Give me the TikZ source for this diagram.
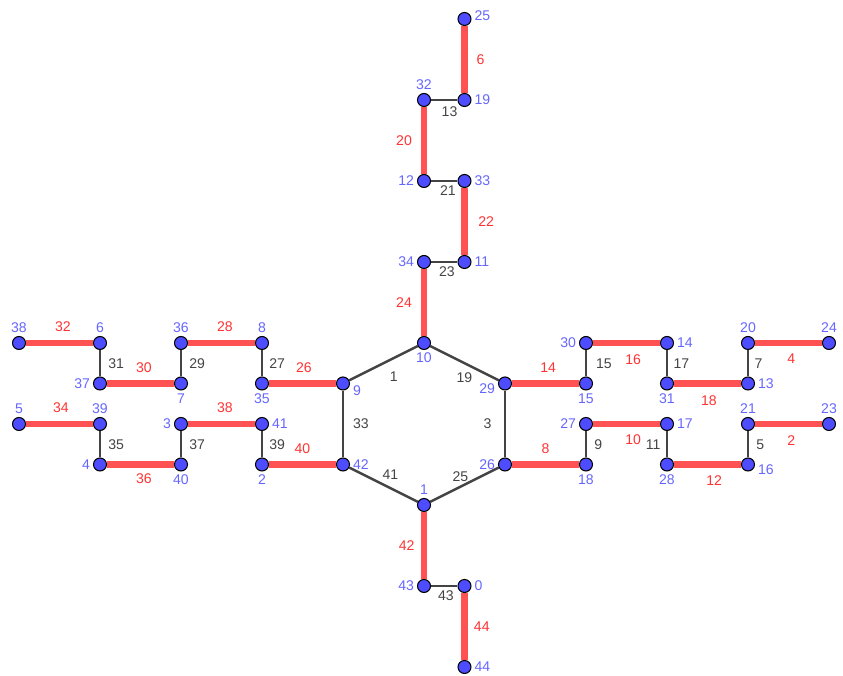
\documentclass[tikz,border=0pt]{standalone}
\usepackage{fontspec}
\setmainfont{Liberation Sans}
\usetikzlibrary{backgrounds}
\definecolor{PtBlue}{HTML}{4D4DFF}
\definecolor{PtText}{HTML}{6666FF}
\definecolor{RedEdge}{HTML}{FF5252}
\definecolor{RedText}{HTML}{FF3333}
\definecolor{GreyEdge}{HTML}{444444}
\tikzset{
  vertex/.style={circle,draw=black,line width=.6pt,fill=PtBlue,minimum size=.26cm,
    inner sep=0pt,label distance=0pt},
  vlabel/.style={text=PtText,font=\fontsize{8}{9}\selectfont,inner sep=1.5pt},
  red edge/.style={draw=RedEdge,line width=3.8pt},
  grey edge/.style={draw=GreyEdge,line width=1.4pt},
  red label/.style={text=RedText,font=\fontsize{8}{9}\selectfont,inner sep=2pt},
  grey label/.style={text=GreyEdge,font=\fontsize{8}{9}\selectfont,inner sep=2pt}
}

\begin{document}
\begin{tikzpicture}[x=.81cm,y=.81cm]
  \useasboundingbox (-0.469,-0.198) rectangle (20.346,16.469);
  % top chain
  \node[vertex,label={[vlabel,yshift=2pt]right:25}] (n25) at (11,16) {};
  \node[vertex,label={[vlabel]right:19}] (n19) at (11,14) {};
  \node[vertex,label={[vlabel]above:32}] (n32) at (10,14) {};
  \node[vertex,label={[vlabel]left:12}] (n12) at (10,12) {};
  \node[vertex,label={[vlabel]right:33}] (n33) at (11,12) {};
  \node[vertex,label={[vlabel]right:11}] (n11) at (11,10) {};
  \node[vertex,label={[vlabel]left:34}] (n34) at (10,10) {};
  % hexagon
  \node[vertex,label={[vlabel]below:10}] (n10) at (10,8) {};
  \node[vertex,label={[vlabel,yshift=-3pt]left:29}] (n29) at (12,7) {};
  \node[vertex,label={[vlabel]left:26}] (n26) at (12,5) {};
  \node[vertex,label={[vlabel]above:1}] (n1) at (10,4) {};
  \node[vertex,label={[vlabel]right:42}] (n42) at (8,5) {};
  \node[vertex,label={[vlabel,yshift=-4pt]right:9}] (n9) at (8,7) {};
  % bottom chain
  \node[vertex,label={[vlabel]left:43}] (n43) at (10,2) {};
  \node[vertex,label={[vlabel]right:0}] (n0) at (11,2) {};
  \node[vertex,label={[vlabel]right:44}] (n44) at (11,0) {};
  % left arm
  \node[vertex,label={[vlabel]above:38}] (n38) at (0,8) {};
  \node[vertex,label={[vlabel]above:6}] (n6) at (2,8) {};
  \node[vertex,label={[vlabel]left:37}] (n37) at (2,7) {};
  \node[vertex,label={[vlabel]below:7}] (n7) at (4,7) {};
  \node[vertex,label={[vlabel]above:36}] (n36) at (4,8) {};
  \node[vertex,label={[vlabel]above:8}] (n8) at (6,8) {};
  \node[vertex,label={[vlabel]below:35}] (n35) at (6,7) {};
  \node[vertex,label={[vlabel]above:5}] (n5) at (0,6) {};
  \node[vertex,label={[vlabel]above:39}] (n39) at (2,6) {};
  \node[vertex,label={[vlabel]left:4}] (n4) at (2,5) {};
  \node[vertex,label={[vlabel]below:40}] (n40) at (4,5) {};
  \node[vertex,label={[vlabel]left:3}] (n3) at (4,6) {};
  \node[vertex,label={[vlabel]right:41}] (n41) at (6,6) {};
  \node[vertex,label={[vlabel]below:2}] (n2) at (6,5) {};
  % right arm
  \node[vertex,label={[vlabel]left:30}] (n30) at (14,8) {};
  \node[vertex,label={[vlabel]below:15}] (n15) at (14,7) {};
  \node[vertex,label={[vlabel]right:14}] (n14) at (16,8) {};
  \node[vertex,label={[vlabel]below:31}] (n31) at (16,7) {};
  \node[vertex,label={[vlabel]above:20}] (n20) at (18,8) {};
  \node[vertex,label={[vlabel]right:13}] (n13) at (18,7) {};
  \node[vertex,label={[vlabel]above:24}] (n24) at (20,8) {};
  \node[vertex,label={[vlabel]left:27}] (n27) at (14,6) {};
  \node[vertex,label={[vlabel]below:18}] (n18) at (14,5) {};
  \node[vertex,label={[vlabel]right:17}] (n17) at (16,6) {};
  \node[vertex,label={[vlabel]below:28}] (n28) at (16,5) {};
  \node[vertex,label={[vlabel]above:21}] (n21) at (18,6) {};
  \node[vertex,label={[vlabel,yshift=-3pt]right:16}] (n16) at (18,5) {};
  \node[vertex,label={[vlabel]above:23}] (n23) at (20,6) {};

  \begin{scope}[on background layer]
    % vertical chain
    \draw[red edge] (n25) -- node[red label,right=3pt]{6} (n19);
    \draw[grey edge] (n32) -- node[grey label,pos=.7,below=1pt]{13} (n19);
    \draw[red edge] (n32) -- node[red label,left=3pt]{20} (n12);
    \draw[grey edge] (n12) -- node[grey label,pos=.64,below=0pt]{21} (n33);
    \draw[red edge] (n33) -- node[red label,right=4pt]{22} (n11);
    \draw[grey edge] (n34) -- node[grey label,pos=.6,below=0pt]{23} (n11);
    \draw[red edge] (n34) -- node[red label,left=3pt]{24} (n10);
    \draw[red edge] (n1) -- node[red label,left=1.5pt]{42} (n43);
    \draw[grey edge] (n43) -- node[grey label,pos=.56,below=0pt]{43} (n0);
    \draw[red edge] (n0) -- node[red label,right=1.5pt]{44} (n44);
    % hexagon
    \draw[grey edge] (n10) -- node[grey label,pos=.35,below=5pt]{1} (n9);
    \draw[grey edge] (n10) -- node[grey label,pos=.5,below=2.5pt]{19} (n29);
    \draw[grey edge] (n29) -- node[grey label,left=5pt]{3} (n26);
    \draw[grey edge] (n26) -- node[grey label,pos=.56,above=0pt]{25} (n1);
    \draw[grey edge] (n42) -- node[grey label,pos=.6,above=2pt]{41} (n1);
    \draw[grey edge] (n9) -- node[grey label,right=3pt]{33} (n42);
    % left arm
    \draw[red edge] (n38) -- node[red label,pos=.55,above=2.5pt]{32} (n6);
    \draw[grey edge] (n6) -- node[grey label,right=2pt]{31} (n37);
    \draw[red edge] (n37) -- node[red label,pos=.55,above=2.5pt]{30} (n7);
    \draw[grey edge] (n36) -- node[grey label,right=2pt]{29} (n7);
    \draw[red edge] (n36) -- node[red label,pos=.55,above=2.5pt]{28} (n8);
    \draw[grey edge] (n8) -- node[grey label,right=1.5pt]{27} (n35);
    \draw[red edge] (n35) -- node[red label,pos=.52,above=2.5pt]{26} (n9);
    \draw[red edge] (n5) -- node[red label,pos=.52,above=2.5pt]{34} (n39);
    \draw[grey edge] (n39) -- node[grey label,right=2pt]{35} (n4);
    \draw[red edge] (n4) -- node[red label,pos=.55,below=1.5pt]{36} (n40);
    \draw[grey edge] (n3) -- node[grey label,right=2pt]{37} (n40);
    \draw[red edge] (n3) -- node[red label,pos=.55,above=2.5pt]{38} (n41);
    \draw[grey edge] (n41) -- node[grey label,right=1.5pt]{39} (n2);
    \draw[red edge] (n2) -- node[red label,pos=.5,above=2.5pt]{40} (n42);
    % right arm
    \draw[red edge] (n29) -- node[red label,pos=.54,above=2.5pt]{14} (n15);
    \draw[grey edge] (n30) -- node[grey label,right=3pt]{15} (n15);
    \draw[red edge] (n30) -- node[red label,pos=.6,below=2.5pt]{16} (n14);
    \draw[grey edge] (n14) -- node[grey label,right=1pt]{17} (n31);
    \draw[red edge] (n31) -- node[red label,pos=.52,below=3pt]{18} (n13);
    \draw[grey edge] (n20) -- node[grey label,right=1pt]{7} (n13);
    \draw[red edge] (n20) -- node[red label,pos=.54,below=2.5pt]{4} (n24);
    \draw[red edge] (n26) -- node[red label,pos=.5,above=2.5pt]{8} (n18);
    \draw[grey edge] (n27) -- node[grey label,right=2pt]{9} (n18);
    \draw[red edge] (n27) -- node[red label,pos=.6,below=2pt]{10} (n17);
    \draw[grey edge] (n17) -- node[grey label,left=1pt]{11} (n28);
    \draw[red edge] (n28) -- node[red label,pos=.6,below=2.5pt]{12} (n16);
    \draw[grey edge] (n21) -- node[grey label,right=2pt]{5} (n16);
    \draw[red edge] (n21) -- node[red label,pos=.54,below=2.5pt]{2} (n23);
  \end{scope}
\end{tikzpicture}
\end{document}
